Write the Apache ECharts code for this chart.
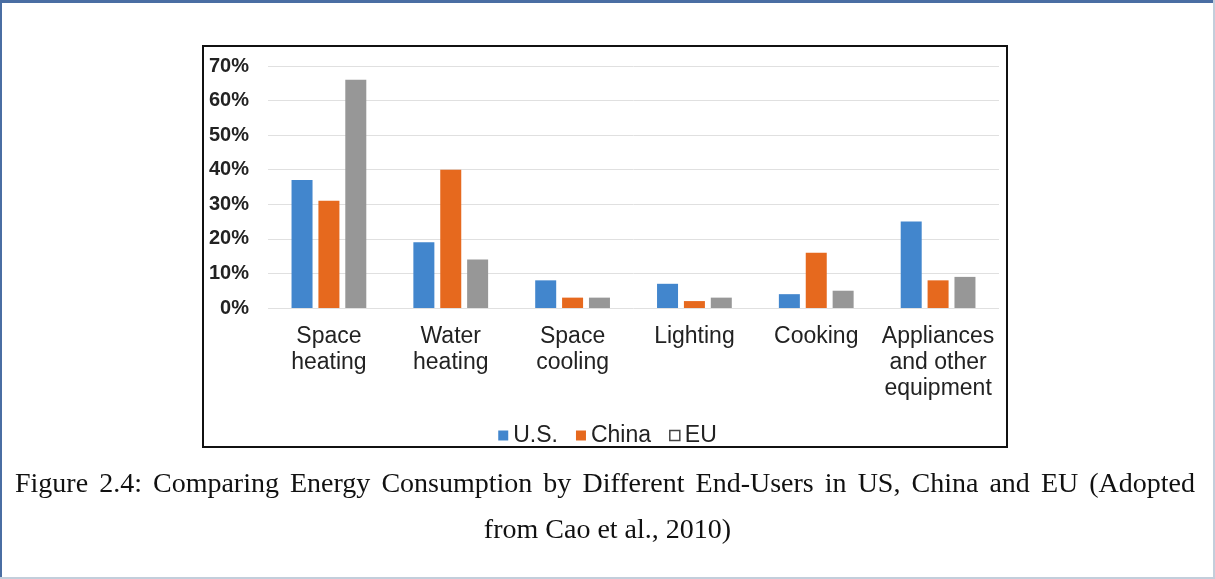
<!DOCTYPE html>
<html>
<head>
<meta charset="utf-8">
<script src="https://cdn.jsdelivr.net/npm/echarts@6/dist/echarts.min.js"></script>
<style>
html,body{margin:0;padding:0;background:#fff;}
#c{width:1215px;height:579px;}
</style>
</head>
<body>
<div id="c"></div>
<script>
var categories = ['Space\nheating', 'Water\nheating', 'Space\ncooling', 'Lighting', 'Cooking', 'Appliances\nand other\nequipment'];
var usValues = [37, 19, 8, 7, 4, 25];
var chinaValues = [31, 40, 3, 2, 16, 8];
var euValues = [66, 14, 3, 3, 5, 9];
var seriesNames = ['U.S.', 'China', 'EU'];
var yTicks = { min: 0, max: 70, interval: 10 };
var captionLine1 = 'Figure 2.4: Comparing Energy Consumption by Different End-Users in US, China and EU (Adopted';
var captionLine2 = 'from Cao et al., 2010)';

var colors = ['#4286cd', '#e6691e', '#979797'];
var sans = "'Liberation Sans', Arial, sans-serif";
var serifName = "'Liberation Serif', 'Times New Roman', serif";
var capSize = 28;
var capFont = capSize + 'px ' + serifName;

// justified first caption line (text layout only)
function justify(text, left, right, cy) {
  var ctx = document.createElement('canvas').getContext('2d');
  ctx.font = capFont;
  var words = text.split(' ');
  var widths = words.map(function (w) { return ctx.measureText(w).width; });
  var total = widths.reduce(function (a, b) { return a + b; }, 0);
  var gap = (right - left - total) / (words.length - 1);
  var els = [];
  var x = left;
  for (var i = 0; i < words.length; i++) {
    els.push({ type: 'text', x: x, y: cy, style: { text: words[i], font: capFont, fill: '#111', textVerticalAlign: 'middle', verticalAlign: 'middle' }, silent: true });
    x += widths[i] + gap;
  }
  return els;
}

var chart = echarts.init(document.getElementById('c'), null, { renderer: 'canvas' });
var graphics = [
  { type: 'rect', shape: { x: 0, y: 0, width: 1215, height: 3 }, style: { fill: '#4a6ea3' }, silent: true },
  { type: 'rect', shape: { x: 0, y: 0, width: 2, height: 579 }, style: { fill: '#4a6ea3' }, silent: true },
  { type: 'rect', shape: { x: 1213, y: 0, width: 2, height: 579 }, style: { fill: '#c3cedb' }, silent: true },
  { type: 'rect', shape: { x: 0, y: 577, width: 1215, height: 2 }, style: { fill: '#c3cedb' }, silent: true },
  { type: 'rect', shape: { x: 203, y: 46, width: 804, height: 401 }, style: { fill: 'none', stroke: '#111', lineWidth: 2 }, silent: true, z: 10 },
  { type: 'text', x: 607.5, y: 531, style: { text: captionLine2, font: capFont, fill: '#111', textAlign: 'center', align: 'center', textVerticalAlign: 'middle', verticalAlign: 'middle' }, silent: true }
].concat(justify(captionLine1, 15, 1195, 485));

chart.setOption({
  animation: false,
  backgroundColor: '#fff',
  color: colors,
  grid: { left: 268, right: 216, top: 66, bottom: 271 },
  legend: {
    left: 'center',
    top: 419,
    itemWidth: 10,
    itemHeight: 10,
    itemGap: 18,
    icon: 'rect',
    textStyle: { fontFamily: sans, fontSize: 23, color: '#222' },
    data: [
      { name: seriesNames[0] },
      { name: seriesNames[1] },
      { name: seriesNames[2], itemStyle: { color: '#fff', borderColor: '#444', borderWidth: 1.5 } }
    ]
  },
  xAxis: {
    type: 'category',
    data: categories,
    axisLine: { show: false },
    axisTick: { show: false },
    axisLabel: {
      interval: 0,
      margin: 16,
      fontFamily: sans,
      fontSize: 23,
      lineHeight: 26,
      color: '#222'
    }
  },
  yAxis: {
    type: 'value',
    min: yTicks.min,
    max: yTicks.max,
    interval: yTicks.interval,
    axisLine: { show: false },
    axisTick: { show: false },
    splitLine: { lineStyle: { color: '#e0e0e0', width: 1 } },
    axisLabel: {
      formatter: '{value}%',
      margin: 19,
      fontFamily: sans,
      fontSize: 20,
      fontWeight: 'bold',
      color: '#222'
    }
  },
  series: [
    { name: seriesNames[0], type: 'bar', data: usValues, barWidth: 21, barGap: '28%' },
    { name: seriesNames[1], type: 'bar', data: chinaValues, barWidth: 21, barGap: '28%' },
    { name: seriesNames[2], type: 'bar', data: euValues, barWidth: 21, barGap: '28%' }
  ],
  graphic: graphics
});
</script>
</body>
</html>
